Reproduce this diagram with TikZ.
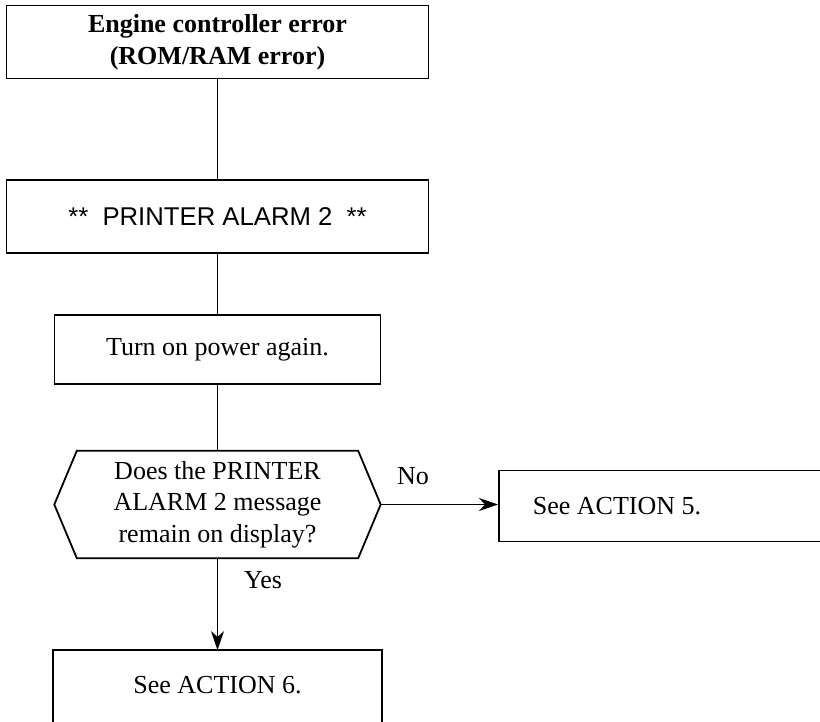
\documentclass[tikz,border=0pt]{standalone}
\usepackage{fontspec}
\setmainfont{Liberation Serif}
\newfontfamily\sansalarm{Liberation Sans}
\usetikzlibrary{arrows.meta}
\begin{document}
\begin{tikzpicture}[x=1pt,y=-1pt,
  txt/.style={font=\fontsize{26}{31.7}\selectfont},
  box/.style={draw, line width=1.8pt, rectangle, inner sep=0pt, align=center, txt},
  conn/.style={line width=1.1pt},
  arr/.style={line width=1.3pt, -{Stealth[length=19pt,width=13pt,inset=6pt]}},
  lbl/.style={inner sep=0pt, txt}]
\useasboundingbox (0,0) rectangle (820,721);
\clip (0,0) rectangle (820,721);
\node[box, minimum width=422pt, minimum height=73pt, font=\fontsize{26}{31.7}\selectfont\bfseries] (b1) at (217.5,42) {Engine controller error\\(ROM/RAM error)};
\node[box, minimum width=422pt, minimum height=73pt, font=\fontsize{25.7}{30}\selectfont\sansalarm] (b2) at (217.5,216.5) {**\ \ PRINTER ALARM 2\ \ **};
\node[box, minimum width=326pt, minimum height=69pt] (b3) at (217.5,349.5) {Turn on power again.};
\node[inner sep=0pt, align=center, txt, minimum width=326pt, minimum height=107pt] (q) at (217.5,504.5) {Does the PRINTER\\ALARM 2 message\\remain on display?};
\draw[line width=1.8pt, line join=miter] ([xshift=22.5pt]q.north west) -- ([xshift=-22.5pt]q.north east) -- (q.east) -- ([xshift=-22.5pt]q.south east) -- ([xshift=22.5pt]q.south west) -- (q.west) -- cycle;
\node[box, minimum width=340pt, minimum height=71pt, inner xsep=34pt, anchor=west] (b5) at (498,506) {\makebox[272pt][l]{See ACTION 5.}};
\node[box, draw=none, minimum width=327pt, minimum height=68pt] (b6) at (217.5,685) {See ACTION 6.};
\draw[line width=1.8pt] ([yshift=-60pt]b6.south west) -- (b6.north west) -- (b6.north east) -- ([yshift=-60pt]b6.south east);
\node[lbl] (no) at (413,476) {No};
\node[lbl] (yes) at (263,580) {Yes};
\draw[conn] (b1.south) -- (b2.north);
\draw[conn] (b2.south) -- (b3.north);
\draw[line width=1.3pt] (b3.south) -- (q.north);
\draw[arr] (q.east) -- (q.east -| b5.west);
\draw[arr] (q.south) -- (b6.north);
\end{tikzpicture}
\end{document}
